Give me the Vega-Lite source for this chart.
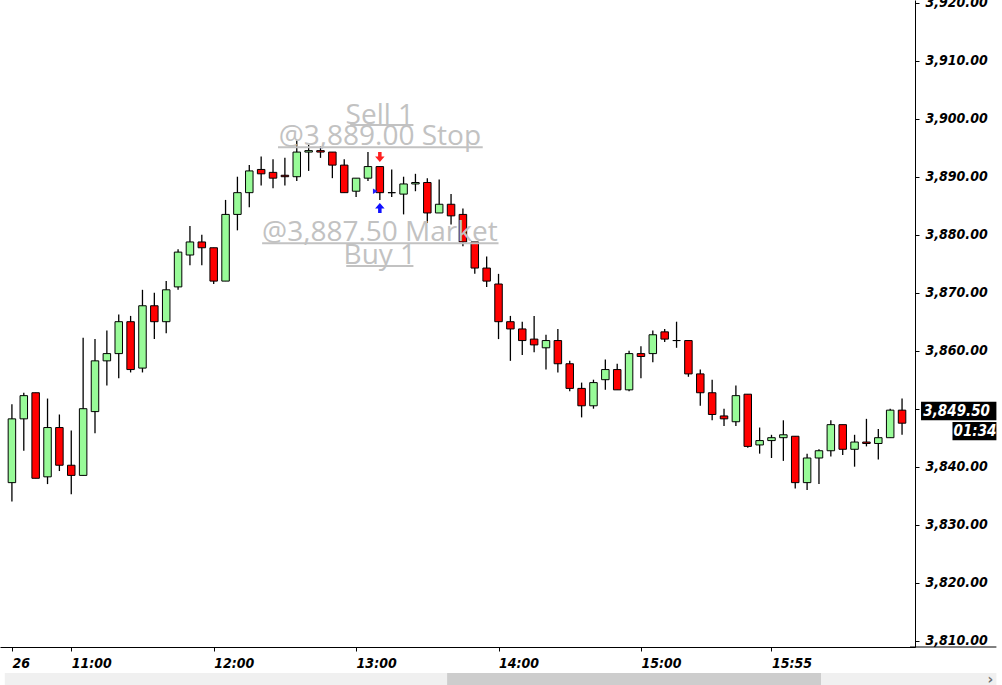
{
  "$schema": "https://vega.github.io/schema/vega-lite/v6.json",
  "description": "5-minute candlestick chart with order markers",
  "width": 915,
  "height": 647,
  "autosize": "none",
  "padding": {"left": 0, "top": 0, "right": 87, "bottom": 38},
  "background": "white",
  "config": {"view": {"stroke": null}},
  "datasets": {
    "bars": [
      {"i": 0, "o": 3837.25, "h": 3850.75, "l": 3834, "c": 3848.25},
      {"i": 1, "o": 3848.25, "h": 3852.75, "l": 3842.75, "c": 3852.25},
      {"i": 2, "o": 3852.75, "h": 3852.75, "l": 3838, "c": 3838},
      {"i": 3, "o": 3838.25, "h": 3851.75, "l": 3837, "c": 3846.75},
      {"i": 4, "o": 3846.75, "h": 3849, "l": 3839.25, "c": 3840.25},
      {"i": 5, "o": 3840.25, "h": 3846.25, "l": 3835.25, "c": 3838.5},
      {"i": 6, "o": 3838.5, "h": 3862.25, "l": 3838.5, "c": 3850},
      {"i": 7, "o": 3849.5, "h": 3862, "l": 3845.75, "c": 3858.25},
      {"i": 8, "o": 3858.25, "h": 3863.5, "l": 3854, "c": 3859.5},
      {"i": 9, "o": 3859.5, "h": 3866.25, "l": 3855.25, "c": 3865},
      {"i": 10, "o": 3865, "h": 3866, "l": 3856.25, "c": 3856.75},
      {"i": 11, "o": 3857, "h": 3870.5, "l": 3856.25, "c": 3867.75},
      {"i": 12, "o": 3867.75, "h": 3870, "l": 3862, "c": 3865},
      {"i": 13, "o": 3865, "h": 3872, "l": 3863, "c": 3870.5},
      {"i": 14, "o": 3871, "h": 3877.5, "l": 3870.5, "c": 3877},
      {"i": 15, "o": 3876.5, "h": 3881.5, "l": 3874.75, "c": 3878.75},
      {"i": 16, "o": 3878.75, "h": 3880, "l": 3874.75, "c": 3877.75},
      {"i": 17, "o": 3877.75, "h": 3877.75, "l": 3871.5, "c": 3872},
      {"i": 18, "o": 3872, "h": 3886, "l": 3872, "c": 3883.5},
      {"i": 19, "o": 3883.5, "h": 3890, "l": 3880.75, "c": 3887.25},
      {"i": 20, "o": 3887.25, "h": 3892, "l": 3884.75, "c": 3891},
      {"i": 21, "o": 3891.25, "h": 3893.5, "l": 3888.5, "c": 3890.5},
      {"i": 22, "o": 3890.75, "h": 3893, "l": 3888, "c": 3889.75},
      {"i": 23, "o": 3890.25, "h": 3893.25, "l": 3888.5, "c": 3890},
      {"i": 24, "o": 3890, "h": 3896.25, "l": 3889.25, "c": 3894.25},
      {"i": 25, "o": 3894.25, "h": 3895.5, "l": 3891, "c": 3894.5},
      {"i": 26, "o": 3894.5, "h": 3895.25, "l": 3893.25, "c": 3894.25},
      {"i": 27, "o": 3894.25, "h": 3894.25, "l": 3889.75, "c": 3892},
      {"i": 28, "o": 3892, "h": 3893, "l": 3887.25, "c": 3887.25},
      {"i": 29, "o": 3887.5, "h": 3889.75, "l": 3886.5, "c": 3889.75},
      {"i": 30, "o": 3889.75, "h": 3894.25, "l": 3889.25, "c": 3891.75},
      {"i": 31, "o": 3891.75, "h": 3891.75, "l": 3886, "c": 3887.25},
      {"i": 32, "o": 3887.25, "h": 3891.25, "l": 3886.5, "c": 3887.25},
      {"i": 33, "o": 3887, "h": 3890, "l": 3883.5, "c": 3888.75},
      {"i": 34, "o": 3888.75, "h": 3890.5, "l": 3887.5, "c": 3889},
      {"i": 35, "o": 3889, "h": 3889.75, "l": 3882, "c": 3883.75},
      {"i": 36, "o": 3883.75, "h": 3889.5, "l": 3883.75, "c": 3885.25},
      {"i": 37, "o": 3885.25, "h": 3887, "l": 3881.75, "c": 3883.25},
      {"i": 38, "o": 3883.5, "h": 3884.5, "l": 3878, "c": 3878.75},
      {"i": 39, "o": 3878.75, "h": 3878.75, "l": 3873.25, "c": 3874.25},
      {"i": 40, "o": 3874.25, "h": 3876.25, "l": 3871, "c": 3872},
      {"i": 41, "o": 3871.5, "h": 3873.25, "l": 3862, "c": 3865},
      {"i": 42, "o": 3865, "h": 3866, "l": 3858.25, "c": 3863.75},
      {"i": 43, "o": 3863.75, "h": 3865, "l": 3859.25, "c": 3861.75},
      {"i": 44, "o": 3862, "h": 3866, "l": 3859.75, "c": 3861},
      {"i": 45, "o": 3860.5, "h": 3862.75, "l": 3856.75, "c": 3861.75},
      {"i": 46, "o": 3861.75, "h": 3863.75, "l": 3856.25, "c": 3857.75},
      {"i": 47, "o": 3857.75, "h": 3858.25, "l": 3853, "c": 3853.5},
      {"i": 48, "o": 3853.5, "h": 3854.5, "l": 3848.5, "c": 3850.5},
      {"i": 49, "o": 3850.5, "h": 3855, "l": 3850, "c": 3854.5},
      {"i": 50, "o": 3855, "h": 3858.5, "l": 3853.25, "c": 3856.75},
      {"i": 51, "o": 3856.75, "h": 3857.75, "l": 3853.25, "c": 3853.25},
      {"i": 52, "o": 3853.25, "h": 3860, "l": 3853, "c": 3859.5},
      {"i": 53, "o": 3859.5, "h": 3860.75, "l": 3855.25, "c": 3859},
      {"i": 54, "o": 3859.5, "h": 3863.5, "l": 3858, "c": 3862.75},
      {"i": 55, "o": 3863.25, "h": 3863.75, "l": 3861.5, "c": 3862},
      {"i": 56, "o": 3861.75, "h": 3865, "l": 3860.5, "c": 3861.75},
      {"i": 57, "o": 3861.75, "h": 3861.75, "l": 3855.5, "c": 3856},
      {"i": 58, "o": 3856, "h": 3856.75, "l": 3850.5, "c": 3852.75},
      {"i": 59, "o": 3852.75, "h": 3855, "l": 3848, "c": 3849},
      {"i": 60, "o": 3848.75, "h": 3850, "l": 3847, "c": 3848.25},
      {"i": 61, "o": 3847.75, "h": 3854, "l": 3847, "c": 3852.25},
      {"i": 62, "o": 3852.5, "h": 3852.5, "l": 3843.25, "c": 3843.5},
      {"i": 63, "o": 3843.75, "h": 3846.75, "l": 3842.25, "c": 3844.5},
      {"i": 64, "o": 3844.5, "h": 3845.5, "l": 3841.5, "c": 3845},
      {"i": 65, "o": 3845, "h": 3848, "l": 3841, "c": 3845.5},
      {"i": 66, "o": 3845.25, "h": 3845.25, "l": 3836.25, "c": 3837.25},
      {"i": 67, "o": 3837.25, "h": 3842.25, "l": 3836, "c": 3841.5},
      {"i": 68, "o": 3841.5, "h": 3843, "l": 3837, "c": 3842.75},
      {"i": 69, "o": 3842.75, "h": 3848, "l": 3841.75, "c": 3847.25},
      {"i": 70, "o": 3847.25, "h": 3847.25, "l": 3842, "c": 3843},
      {"i": 71, "o": 3843, "h": 3845.5, "l": 3840, "c": 3844.25},
      {"i": 72, "o": 3844.25, "h": 3848.25, "l": 3843.5, "c": 3844},
      {"i": 73, "o": 3844, "h": 3846.5, "l": 3841.25, "c": 3845},
      {"i": 74, "o": 3845, "h": 3850, "l": 3845, "c": 3849.75},
      {"i": 75, "o": 3849.75, "h": 3851.75, "l": 3845.5, "c": 3847.5}
    ],
    "notes": [
      {"i": 31, "p": 3899.1, "text": "Sell 1"},
      {"i": 31, "p": 3895.5, "text": "@3,889.00 Stop"},
      {"i": 31, "p": 3878.9, "text": "@3,887.50 Market"},
      {"i": 31, "p": 3875.0, "text": "Buy 1"}
    ],
    "underlines": [
      {"a": 28.5, "b": 33.83, "p": 3898.9},
      {"a": 22.42, "b": 39.67, "p": 3895.07},
      {"a": 21.08, "b": 41.0, "p": 3878.52},
      {"a": 28.17, "b": 33.83, "p": 3874.6}
    ],
    "orders": [
      {"i": 31, "p": 3893.4, "side": "sell"},
      {"i": 31, "p": 3884.6, "side": "buy"},
      {"i": 30.62, "p": 3887.5, "side": "fill"}
    ],
    "tags": [
      {"a": 76.6, "b": 82.95, "p1": 3851.2, "p2": 3848.0, "tx": 79.6, "tp": 3849.55, "label": "3,849.50"},
      {"a": 79.25, "b": 82.95, "p1": 3847.7, "p2": 3844.55, "tx": 81.15, "tp": 3846.1, "label": "01:34"}
    ],
    "chrome": [
      {"part": "track", "a": -0.6, "b": 82.95, "p1": 3804.43, "p2": 3802.2},
      {"part": "thumb", "a": 36.67, "b": 68.17, "p1": 3804.43, "p2": 3802.2},
      {"part": "arrow", "a": 82.45, "b": 82.45, "p1": 3803.3, "p2": 3803.3},
      {"part": "baseline", "a": 75.67, "b": 82.95, "p1": 3808.91, "p2": 3808.91}
    ]
  },
  "encoding": {
    "x": {
      "field": "i",
      "type": "quantitative",
      "scale": {"domain": [-0.583, 75.67], "nice": false, "zero": false},
      "axis": {
        "title": null,
        "grid": false,
        "values": [0, 5, 17, 29, 41, 53, 64],
        "labelExpr": "datum.value == 0 ? '26' : datum.value == 5 ? '11:00' : datum.value == 17 ? '12:00' : datum.value == 29 ? '13:00' : datum.value == 41 ? '14:00' : datum.value == 53 ? '15:00' : '15:55'",
        "domainColor": "black",
        "tickColor": "black",
        "tickSize": 4,
        "labelAlign": "left",
        "labelBaseline": "top",
        "labelPadding": 5,
        "labelDx": -1,
        "labelFont": "DejaVu Sans Condensed, DejaVu Sans",
        "labelFontStyle": "italic",
        "labelFontWeight": "bold",
        "labelFontSize": 14,
        "labelColor": "black",
        "labelFlush": false,
        "labelOverlap": false
      }
    }
  },
  "layer": [
    {
      "data": {"name": "chrome"},
      "transform": [{"filter": "datum.part == 'track'"}],
      "mark": {"type": "rect", "color": "#f0f0f0"},
      "encoding": {
        "x": {"field": "a", "type": "quantitative"},
        "x2": {"field": "b"},
        "y": {"field": "p1", "type": "quantitative"},
        "y2": {"field": "p2"}
      }
    },
    {
      "data": {"name": "chrome"},
      "transform": [{"filter": "datum.part == 'thumb'"}],
      "mark": {"type": "rect", "color": "#cdcdcd"},
      "encoding": {
        "x": {"field": "a", "type": "quantitative"},
        "x2": {"field": "b"},
        "y": {"field": "p1", "type": "quantitative"},
        "y2": {"field": "p2"}
      }
    },
    {
      "data": {"name": "chrome"},
      "transform": [{"filter": "datum.part == 'arrow'"}],
      "mark": {"type": "text", "text": "›", "color": "#707070", "font": "DejaVu Sans", "fontWeight": "bold", "fontSize": 14, "align": "center", "baseline": "middle"},
      "encoding": {
        "x": {"field": "a", "type": "quantitative"},
        "y": {"field": "p1", "type": "quantitative"}
      }
    },
    {
      "data": {"name": "chrome"},
      "transform": [{"filter": "datum.part == 'baseline'"}],
      "mark": {"type": "rule", "color": "black", "strokeWidth": 1},
      "encoding": {
        "x": {"field": "a", "type": "quantitative"},
        "x2": {"field": "b"},
        "y": {"field": "p1", "type": "quantitative"}
      }
    },
    {
      "data": {"name": "bars"},
      "mark": {"type": "rule", "color": "black", "strokeWidth": 1.3},
      "encoding": {
        "y": {
          "field": "l",
          "type": "quantitative",
          "scale": {"domain": [3808.91, 3920.47], "nice": false, "zero": false},
          "axis": {
            "title": null,
            "orient": "right",
            "grid": false,
            "values": [3810, 3815, 3820, 3825, 3830, 3835, 3840, 3845, 3850, 3855, 3860, 3865, 3870, 3875, 3880, 3885, 3890, 3895, 3900, 3905, 3910, 3915, 3920],
            "labelExpr": "datum.value % 10 == 0 ? format(datum.value, ',.2f') : ''",
            "domainColor": "black",
            "tickColor": "black",
            "tickSize": 4,
            "labelPadding": 6,
            "labelFont": "DejaVu Sans Condensed, DejaVu Sans",
            "labelFontStyle": "italic",
            "labelFontWeight": "bold",
            "labelFontSize": 14,
            "labelColor": "black",
            "labelOverlap": false,
            "labelFlush": false
          }
        },
        "y2": {"field": "h"}
      }
    },
    {
      "data": {"name": "bars"},
      "mark": {"type": "bar", "size": 7.5, "stroke": "black", "strokeWidth": 1},
      "encoding": {
        "y": {"field": "o", "type": "quantitative"},
        "y2": {"field": "c"},
        "fill": {
          "condition": {"test": "datum.c >= datum.o", "value": "#98fb98"},
          "value": "#ff0000"
        }
      }
    },
    {
      "data": {"name": "underlines"},
      "mark": {"type": "rule", "color": "#c2c2c2", "strokeWidth": 2},
      "encoding": {
        "x": {"field": "a", "type": "quantitative"},
        "x2": {"field": "b"},
        "y": {"field": "p", "type": "quantitative"}
      }
    },
    {
      "data": {"name": "notes"},
      "mark": {"type": "text", "font": "Open Sans", "fontSize": 28, "color": "#c2c2c2", "align": "center", "baseline": "alphabetic"},
      "encoding": {
        "y": {"field": "p", "type": "quantitative"},
        "text": {"field": "text"}
      }
    },
    {
      "data": {"name": "orders"},
      "transform": [{"filter": "datum.side == 'sell'"}],
      "mark": {"type": "point", "filled": true, "color": "#ff2020", "size": 100, "opacity": 1, "shape": "M-0.35,-1L0.35,-1L0.35,-0.1L0.95,-0.1L0,1L-0.95,-0.1L-0.35,-0.1Z"},
      "encoding": {
        "y": {"field": "p", "type": "quantitative"}
      }
    },
    {
      "data": {"name": "orders"},
      "transform": [{"filter": "datum.side == 'buy'"}],
      "mark": {"type": "point", "filled": true, "color": "#1010ff", "size": 100, "opacity": 1, "shape": "M-0.35,1L0.35,1L0.35,0.1L0.95,0.1L0,-1L-0.95,0.1L-0.35,0.1Z"},
      "encoding": {
        "y": {"field": "p", "type": "quantitative"}
      }
    },
    {
      "data": {"name": "orders"},
      "transform": [{"filter": "datum.side == 'fill'"}],
      "mark": {"type": "point", "filled": true, "color": "#2020ff", "size": 30, "opacity": 1, "shape": "triangle-right"},
      "encoding": {
        "y": {"field": "p", "type": "quantitative"}
      }
    },
    {
      "data": {"name": "tags"},
      "mark": {"type": "rect", "color": "black"},
      "encoding": {
        "x": {"field": "a", "type": "quantitative"},
        "x2": {"field": "b"},
        "y": {"field": "p1", "type": "quantitative"},
        "y2": {"field": "p2"}
      }
    },
    {
      "data": {"name": "tags"},
      "transform": [{"filter": "datum.label == '3,849.50'"}],
      "mark": {"type": "point", "filled": true, "color": "black", "opacity": 1, "size": 100, "shape": "M-1,0L1,-1.85L1,1.85Z"},
      "encoding": {
        "x": {"datum": 76.25, "type": "quantitative"},
        "y": {"field": "tp", "type": "quantitative"}
      }
    },
    {
      "data": {"name": "tags"},
      "mark": {"type": "text", "color": "white", "font": "DejaVu Sans Condensed, DejaVu Sans", "fontStyle": "italic", "fontWeight": "bold", "fontSize": 15, "align": "center", "baseline": "middle"},
      "encoding": {
        "x": {"field": "tx", "type": "quantitative"},
        "y": {"field": "tp", "type": "quantitative"},
        "text": {"field": "label"}
      }
    }
  ]
}
